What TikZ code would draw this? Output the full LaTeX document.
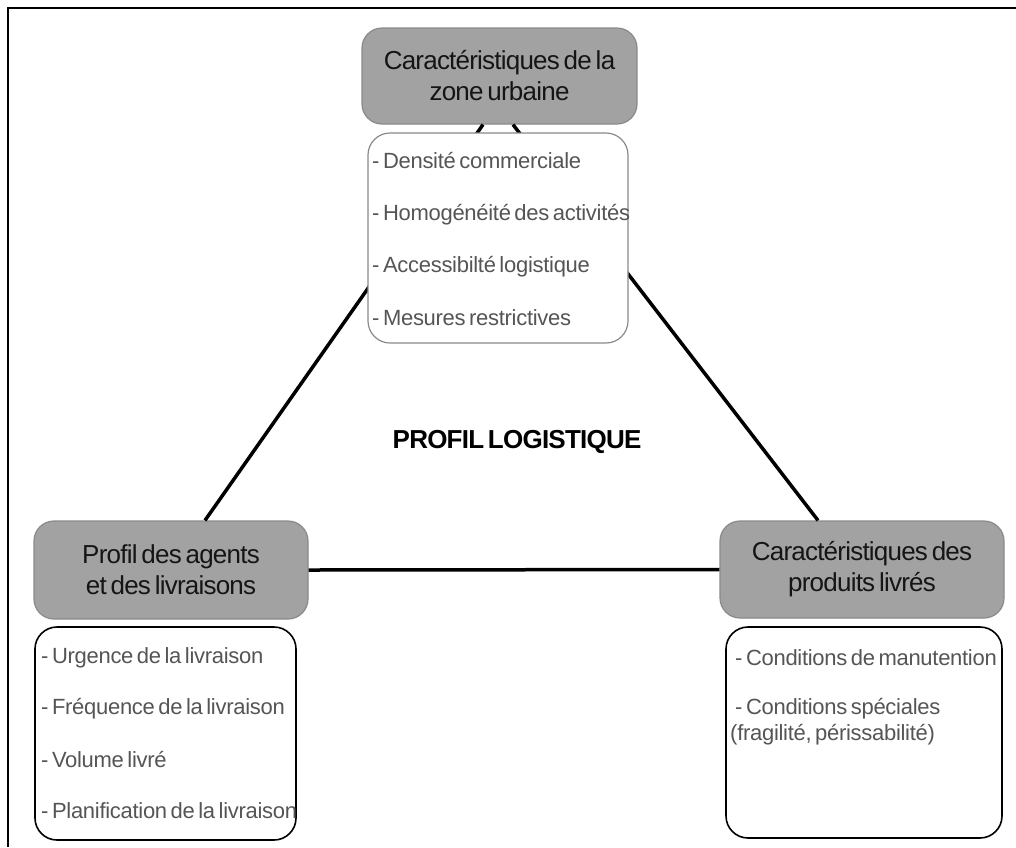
\documentclass[tikz,border=0pt]{standalone}
\usepackage{fontspec}
\setmainfont{Liberation Sans}
\newfontfamily\headfont[LetterSpace=-3,WordSpace=0.6]{Liberation Sans}
\newfontfamily\listfont[LetterSpace=-1.3,WordSpace=0.6]{Liberation Sans}
\usetikzlibrary{calc}
\definecolor{boxgray}{HTML}{A2A2A2}
\definecolor{boxedge}{HTML}{8A8A8A}
\definecolor{listtext}{HTML}{555555}
\definecolor{titletext}{HTML}{151515}
\tikzset{
  headbox/.style={draw=boxedge, line width=1.2pt, fill=boxgray, rounded corners=20pt,
    align=center, inner sep=0pt, text=titletext,
    font=\headfont\fontsize{26}{31}\selectfont},
  listbox/.style={draw=black, line width=1.6pt, fill=white, rounded corners=22pt, inner sep=0pt},
  listitem/.style={anchor=base west, inner sep=0pt, text=listtext, font=\listfont\fontsize{22}{24}\selectfont},
  link/.style={line width=3.5pt}
}
\begin{document}
\begin{tikzpicture}[x=1pt,y=-1pt]
\useasboundingbox (0,0) rectangle (1016,847);
% frame
\draw[line width=1.6pt] (1016,8) -- (8,8) -- (8,847);

% header nodes
\node[headbox, minimum width=275pt, minimum height=96pt] (top) at (499.5,76) {Caractéristiques de la\\zone urbaine};
\node[headbox, minimum width=274pt, minimum height=98pt] (left) at (171,570) {Profil des agents\\et des livraisons};
\node[headbox, minimum width=284pt, minimum height=97pt] (right) at (862,569.5) {Caractéristiques des\\produits livrés};

% connectors
\draw[link] ($(top.south)+(-16.5,0)$) -- ($(left.north)+(34,0)$);
\draw[link] ($(top.south)+(13.5,0)$) -- ($(right.north)+(-44,0)$);
\draw[link] (left.east) -- (right.west);

% list boxes
\node[listbox, draw=boxedge, line width=1.2pt, minimum width=260pt, minimum height=210pt] (toplist) at (498,238) {};
\node[listbox, minimum width=261pt, minimum height=213pt] (leftlist) at (165.5,733.5) {};
\node[listbox, minimum width=276pt, minimum height=211pt] (rightlist) at (864,732.5) {};

% list items
\node[listitem] (t1) at (372,168) {- Densité commerciale};
\node[listitem] (t2) at (372,220) {- Homogénéité des activités};
\node[listitem] (t3) at (372,272) {- Accessibilté logistique};
\node[listitem] (t4) at (372,325) {- Mesures restrictives};

\node[listitem] (l1) at (41,663) {- Urgence de la livraison};
\node[listitem] (l2) at (41,714) {- Fréquence de la livraison};
\node[listitem] (l3) at (41,767) {- Volume livré};
\node[listitem] (l4) at (41,818) {- Planification de la livraison};

\node[listitem] (r1) at (735,665) {- Conditions de manutention};
\node[listitem] (r2) at (735,714) {- Conditions spéciales};
\node[listitem] (r3) at (730,740) {(fragilité, périssabilité)};

% centre label
\node[anchor=base, inner sep=0pt, font=\headfont\fontsize{26}{30}\selectfont\bfseries] (centre) at (517,448) {PROFIL LOGISTIQUE};
\end{tikzpicture}
\end{document}
